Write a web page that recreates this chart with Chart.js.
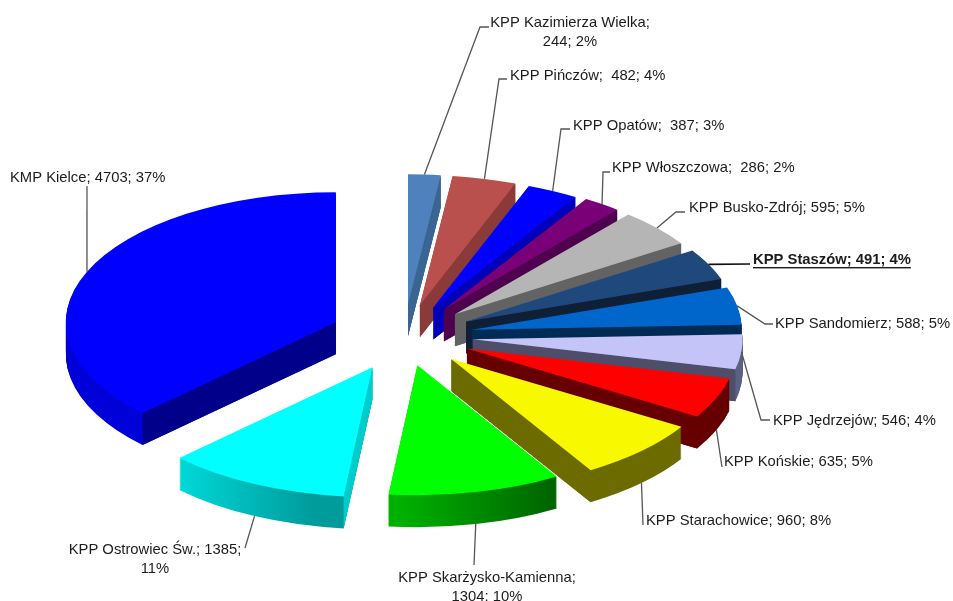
<!DOCTYPE html>
<html><head><meta charset="utf-8">
<style>html,body{margin:0;padding:0;background:#fff}canvas{display:block}</style>
<script src="https://cdn.jsdelivr.net/npm/chart.js@4"></script>
</head><body><canvas id="c" width="953" height="601"></canvas>
<script>
const categories = ["KPP Kazimierza Wielka","KPP Pińczów","KPP Opatów","KPP Włoszczowa","KPP Busko-Zdrój","KPP Staszów","KPP Sandomierz","KPP Jędrzejów","KPP Końskie","KPP Starachowice","KPP Skarżysko-Kamienna","KPP Ostrowiec Św.","KMP Kielce"];
const values = [244,482,387,286,595,491,588,546,635,960,1304,1385,4703];
const topColors = ["#4F81BD","#B9504D","#0000FF","#7A0078","#B5B5B5","#1F497D","#0066CC","#C4C4F8","#FF0000","#F8F800","#00FF00","#00FFFF","#0000FF"];
const cutColors = ["#3A6491","#8A3B39","#0000B8","#4F004F","#636363","#0F2036","#002B55","#4E4E6A","#660000","#6B6B00","#006400","#00CCCC","#00008B"];
const wallLeft  = ["#3A6491","#8A3B39","#0000B8","#4F004F","#636363","#0F2036","#002B55","#5A6080","#660000","#6B6B00","#00B000","#00E6E6","#0000D8"];
const wallRight = ["#3A6491","#8A3B39","#0000B8","#4F004F","#636363","#0F2036","#002B55","#5A6080","#660000","#6B6B00","#005C00","#009C9C","#0000D8"];
const explode = [66,66,66,68,68,69,69,69,68,67,62,72,74];
const labelLines = [
 ["KPP Kazimierza Wielka;","244; 2%"],["KPP Pińczów;  482; 4%"],["KPP Opatów;  387; 3%"],["KPP Włoszczowa;  286; 2%"],
 ["KPP Busko-Zdrój; 595; 5%"],["KPP Staszów; 491; 4%"],["KPP Sandomierz; 588; 5%"],["KPP Jędrzejów; 546; 4%"],
 ["KPP Końskie; 635; 5%"],["KPP Starachowice; 960; 8%"],["KPP Skarżysko-Kamienna;","1304; 10%"],["KPP Ostrowiec Św.; 1385;","11%"],["KMP Kielce; 4703; 37%"]];
const labelAnchor = [[570,23,"center"],[510,76,"left"],[573,126,"left"],[612,168,"left"],[689,208,"left"],[753,260,"left"],[775,324,"left"],[773,421,"left"],[724,462,"left"],[646,521,"left"],[487,578,"center"],[155,550,"center"],[10,178,"left"]];
const leaderElbows = [[[480,27],[489,27]],[[499,79],[507,79]],[[561,129],[570,129]],[[603,172],[610,172]],[[676,212],[685,212]],[[750,264]],[[765,324],[773,324]],[[761,420],[770,420]],[[722,467]],[[643,525]],[[474,565]],[[245,548]],[[87,186]]];
const leaderOnWall = [0,0,0,0,0,0,0,0,1,1,1,1,0];

const CX=404, CY=336, SQ=0.4815, DEPTH=32, R=270;

function withFill(arc,fill,fn){
  const saved=arc.options, o=Object.create(saved);
  Object.defineProperty(o,'backgroundColor',{value:fill});
  arc.options=o; fn(); arc.options=saved;
}
const pie3d={
  id:'pie3d',
  beforeDatasetDraw(chart){
    const ctx=chart.ctx, arcs=chart.getDatasetMeta(0).data;
    arcs.forEach((arc,i)=>{
      const mid=(arc.startAngle+arc.endAngle)/2, e=explode[i];
      const ax=CX+e*Math.cos(mid), ay=CY+e*Math.sin(mid)*SQ;
      const place=(d)=>{ctx.translate(ax,ay+d);ctx.scale(1,SQ);ctx.translate(-arc.x,-arc.y);};
      const grad=ctx.createLinearGradient(ax+R*Math.min(Math.cos(arc.startAngle),Math.cos(arc.endAngle)),0,ax+R*Math.max(Math.cos(arc.startAngle),Math.cos(arc.endAngle)),0);
      grad.addColorStop(0,wallLeft[i]);grad.addColorStop(1,wallRight[i]);
      for(let d=DEPTH;d>=1;d--){
        ctx.save();place(d);
        withFill(arc,grad,()=>arc.draw(ctx));
        ctx.restore();
      }
      const wall=(ang)=>{
        const ex=ax+arc.outerRadius*Math.cos(ang), ey=ay+arc.outerRadius*Math.sin(ang)*SQ;
        ctx.beginPath();ctx.moveTo(ax,ay);ctx.lineTo(ex,ey);ctx.lineTo(ex,ey+DEPTH);ctx.lineTo(ax,ay+DEPTH);ctx.closePath();
        ctx.fillStyle=cutColors[i];ctx.fill();
      };
      if(Math.cos(arc.startAngle)<0) wall(arc.startAngle);
      if(Math.cos(arc.endAngle)>0) wall(arc.endAngle);
      ctx.save();place(0);arc.draw(ctx);ctx.restore();
    });
    return false;
  },
  afterDatasetsDraw(chart){
    const ctx=chart.ctx, arcs=chart.getDatasetMeta(0).data;
    ctx.save();
    arcs.forEach((arc,i)=>{
      const mid=(arc.startAngle+arc.endAngle)/2, e=explode[i];
      const ax=CX+e*Math.cos(mid), ay=CY+e*Math.sin(mid)*SQ;
      const sx=ax+arc.outerRadius*Math.cos(mid), sy=ay+arc.outerRadius*Math.sin(mid)*SQ+(leaderOnWall[i]?DEPTH:0);
      ctx.beginPath();ctx.moveTo(sx,sy);
      leaderElbows[i].forEach(p=>ctx.lineTo(p[0],p[1]));
      ctx.strokeStyle=i===5?'#111':'#555';ctx.lineWidth=i===5?1.6:1.3;ctx.stroke();
      const a=labelAnchor[i], bold=i===5;
      ctx.font=(bold?'bold ':'')+'14.8px "Liberation Sans", Arial, sans-serif';
      ctx.textAlign=a[2];ctx.textBaseline='middle';ctx.fillStyle='#1c1c1c';
      labelLines[i].forEach((t,k)=>{
        const y=a[1]+k*18.5;
        ctx.fillText(t,a[0],y);
        if(bold){const w=ctx.measureText(t).width;ctx.fillRect(a[0],y+7,w,1.4);}
      });
    });
    ctx.restore();
  }
};
new Chart(document.getElementById('c'),{
  type:'pie',
  data:{labels:categories,datasets:[{data:values,backgroundColor:topColors,borderWidth:0,clip:false}]},
  options:{responsive:false,animation:false,radius:R,
    layout:{padding:{right:953-2*CX}},
    plugins:{legend:{display:false},tooltip:{enabled:false},title:{display:false}}},
  plugins:[pie3d]
});
</script></body></html>
